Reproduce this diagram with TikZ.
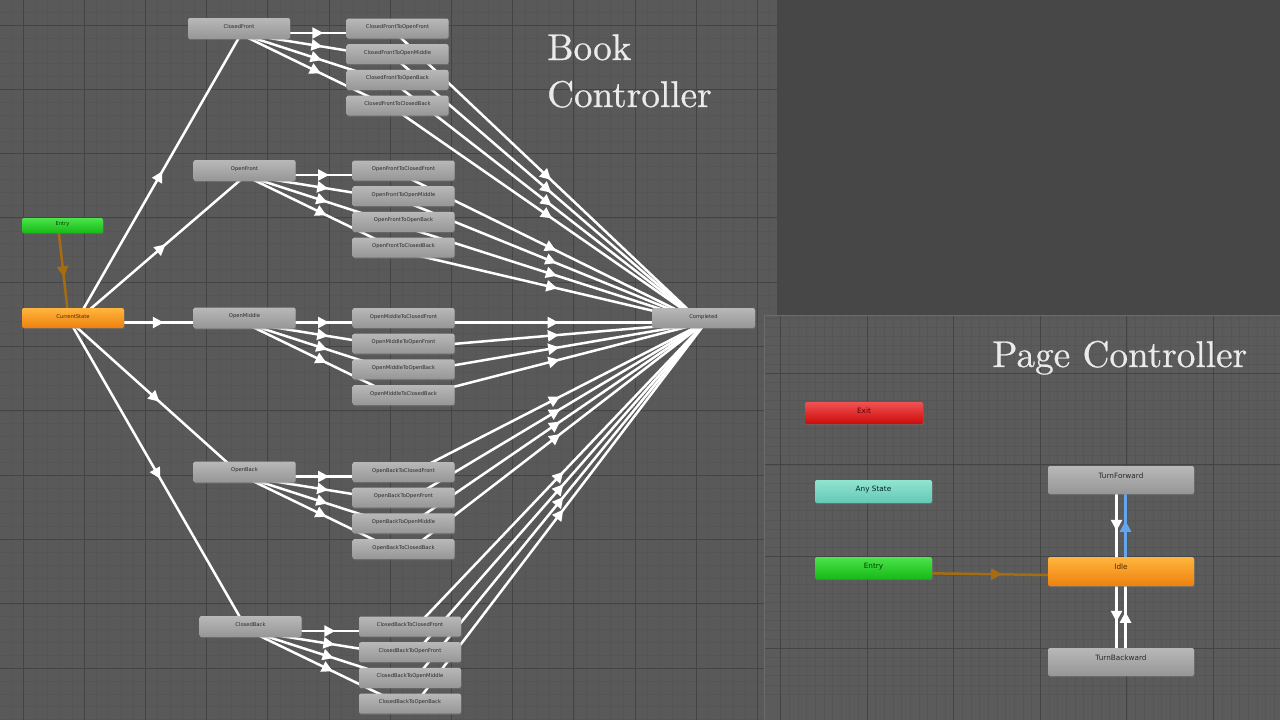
\documentclass[tikz,border=0pt]{standalone}
\usepackage{fontspec}
\setsansfont{DejaVu Sans}
\newfontfamily\titlefont[Extension=.otf,FakeBold=0.6]{lmroman10-regular}
\usetikzlibrary{calc,arrows.meta,decorations.markings,shadows}

\definecolor{panelbg}{RGB}{89,89,89}
\definecolor{darkbg}{RGB}{71,71,71}
\definecolor{pagebg}{RGB}{91,91,91}
\definecolor{gridmajor}{RGB}{68,68,68}
\definecolor{gridminor}{RGB}{85,85,85}
\definecolor{nodetext}{RGB}{40,40,40}
\definecolor{graytop}{RGB}{184,184,184}
\definecolor{graybot}{RGB}{150,150,150}
\definecolor{greentop}{RGB}{75,228,75}
\definecolor{greenbot}{RGB}{22,185,22}
\definecolor{orangetop}{RGB}{255,182,62}
\definecolor{orangebot}{RGB}{238,128,14}
\definecolor{redtop}{RGB}{240,82,82}
\definecolor{redbot}{RGB}{205,10,10}
\definecolor{tealtop}{RGB}{145,228,208}
\definecolor{tealbot}{RGB}{100,200,180}
\definecolor{entrybrown}{RGB}{165,108,18}
\definecolor{anyblue}{RGB}{100,165,235}

\pgfdeclarelayer{grid}
\pgfdeclarelayer{edges}
\pgfsetlayers{grid,edges,main}

\tikzset{
  box/.style={rounded corners=2pt, inner xsep=0pt, inner ysep=0pt, text=nodetext,
    font=\sffamily\fontsize{5.2}{6}\selectfont, top color=graytop, bottom color=graybot,
    drop shadow={shadow xshift=0.6pt, shadow yshift=-1.2pt, opacity=0.35}},
  state/.style={box, minimum width=102pt, text height=10pt, text depth=11pt},
  trstate/.style={box, minimum width=102pt, text height=10pt, text depth=10pt},
  entrybox/.style={box, top color=greentop, bottom color=greenbot, text=green!25!black},
  currentbox/.style={box, top color=orangetop, bottom color=orangebot, text=orange!30!black},
  pagebox/.style={box, font=\sffamily\fontsize{7.3}{8}\selectfont, minimum width=146pt,
    text height=12.5pt, text depth=15.5pt},
  sidebox/.style={box, font=\sffamily\fontsize{7.3}{8}\selectfont, minimum width=117pt,
    text height=11pt, text depth=11pt},
  title/.style={text=white!92!black, font=\titlefont\fontsize{37.2}{47}\selectfont, inner sep=0pt, align=left},
  trans/.style={line width=2.5pt, white, postaction={decorate},
    decoration={markings, mark=at position 0.5 with {\arrow[xshift=5pt]{Triangle[length=11pt,width=11pt]}}}}
}

% transition drawn centre to centre, shifted to the right of its direction
\newcommand\statelink[3][white]{%
  \begin{pgfonlayer}{edges}
    \draw[trans,#1] ($(#2)!4.5pt!-90:(#3)$) -- ($(#3)!4.5pt!90:(#2)$);
  \end{pgfonlayer}}

\begin{document}
\begin{tikzpicture}[x=1pt,y=-1pt]
  \useasboundingbox (0,0) rectangle (1280,720);

  % panels and grids
  \begin{pgfonlayer}{grid}
    \fill[panelbg] (0,0) rectangle (777,720);
    \fill[darkbg] (777,0) rectangle (1280,315);
    \begin{scope}
      \clip (0,0) rectangle (777,720);
      \foreach \i in {0,...,65}
        \draw[gridminor,line width=0.4pt] (23+12.24*\i-24.48,0) -- (23+12.24*\i-24.48,720);
      \foreach \i in {0,...,58}
        \draw[gridminor,line width=0.4pt] (0,25+12.86*\i-25.72) -- (777,25+12.86*\i-25.72);
      \foreach \i in {0,...,12}
        \draw[gridmajor,line width=1pt] (23+61.2*\i,0) -- (23+61.2*\i,720);
      \foreach \i in {0,...,11}
        \draw[gridmajor,line width=1pt] (0,25+64.3*\i) -- (777,25+64.3*\i);
    \end{scope}
    \fill[pagebg] (764,315) rectangle (1280,720);
    \begin{scope}
      \clip (764,315) rectangle (1280,720);
      \foreach \i in {0,...,60}
        \draw[gridminor,line width=0.4pt] (780.4+8.66*\i,315) -- (780.4+8.66*\i,720);
      \foreach \i in {0,...,45}
        \draw[gridminor,line width=0.4pt] (764,281.3+9.17*\i) -- (1280,281.3+9.17*\i);
      \foreach \i in {0,...,6}
        \draw[gridmajor,line width=1pt] (780.4+86.6*\i,315) -- (780.4+86.6*\i,720);
      \foreach \i in {0,...,4}
        \draw[gridmajor,line width=1pt] (764,281.3+91.7*\i) -- (1280,281.3+91.7*\i);
    \end{scope}
    \draw[white!42!black,line width=1pt] (764,720) -- (764,315) -- (1280,315);
  \end{pgfonlayer}

  % book controller
  \node[entrybox, minimum width=81pt, text height=7.5pt, text depth=7.5pt] (entry) at (62.5,225.5) {Entry};
  \node[currentbox, minimum width=102pt, text height=10pt, text depth=10pt] (cur) at (73,318) {CurrentState};
  \node[trstate, minimum width=103pt] (done) at (703.5,318) {Completed};
  \statelink[entrybrown]{entry}{cur}

  \foreach \st/\lab/\sx/\sy/\tx/\targets in {
      cf/ClosedFront/239/28.5/397.5/{OpenFront,OpenMiddle,OpenBack,ClosedBack},
      of/OpenFront/244.5/170.5/403.5/{ClosedFront,OpenMiddle,OpenBack,ClosedBack},
      om/OpenMiddle/244.5/318/403.5/{ClosedFront,OpenFront,OpenBack,ClosedBack},
      ob/OpenBack/244.5/472/403.5/{ClosedFront,OpenFront,OpenMiddle,ClosedBack},
      cb/ClosedBack/250.5/626.5/410/{ClosedFront,OpenFront,OpenMiddle,OpenBack}} {
    \node[state] (\st) at (\sx,\sy) {\lab};
    \statelink{cur}{\st}
    \foreach \tg [count=\i] in \targets {
      \node[trstate] (\st\i) at (\tx,\sy+25.7*\i-25.7) {\lab To\tg};
      \statelink{\st}{\st\i}
      \statelink{\st\i}{done}
    }
  }

  \node[title, anchor=base west] (booktitle) at (547,107) {Book\\Controller};

  % page controller
  \node[title, anchor=base west] (pagetitle) at (992,367) {Page Controller};
  \node[sidebox, top color=redtop, bottom color=redbot, text=red!35!black, minimum width=118pt] (exit) at (864,413) {Exit};
  \node[sidebox, top color=tealtop, bottom color=tealbot, text=teal!30!black, text depth=12pt] (any) at (873.5,491.5) {Any State};
  \node[sidebox, entrybox, font=\sffamily\fontsize{7.3}{8}\selectfont] (pentry) at (873.5,568) {Entry};
  \node[pagebox] (fwd) at (1121,480) {TurnForward};
  \node[pagebox, currentbox, font=\sffamily\fontsize{7.3}{8}\selectfont, text depth=16.5pt] (idle) at (1121,571.5) {Idle};
  \node[pagebox] (back) at (1121,662) {TurnBackward};

  \statelink[entrybrown]{pentry}{idle}
  \statelink{fwd}{idle}
  \statelink[anyblue]{idle}{fwd}
  \statelink{idle}{back}
  \statelink{back}{idle}
\end{tikzpicture}
\end{document}
